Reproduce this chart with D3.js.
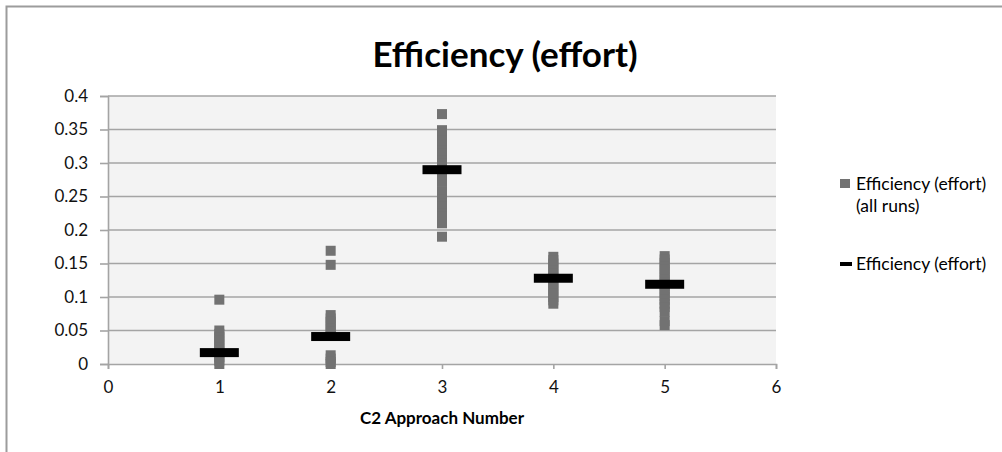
<!DOCTYPE html>
<html>
<head>
<meta charset="utf-8">
<script src="https://cdn.jsdelivr.net/npm/d3@7"></script>
<style>
  html, body { margin: 0; padding: 0; background: #fff; }
  svg { display: block; font-family: Lato, "Open Sans", sans-serif; }
</style>
</head>
<body>
<svg id="chart" width="1002" height="452"></svg>
<script>
// Approach numbers on the x axis
const approaches = [1, 2, 3, 4, 5];

// Efficiency (effort) of every run, per approach
const runs1 = [0.096, 0.050, 0.045, 0.040, 0.035, 0.030, 0.025, 0.020, 0.015, 0.010, 0.005, 0.000];
const runs2 = [0.169, 0.148, 0.073, 0.068, 0.063, 0.058, 0.053, 0.048, 0.043, 0.013, 0.008, 0.003, 0.000];
const runs3 = [0.373, 0.349, 0.344, 0.339, 0.334, 0.329, 0.324, 0.319, 0.314, 0.309, 0.304, 0.299,
               0.294, 0.289, 0.284, 0.279, 0.272, 0.258, 0.252, 0.246, 0.240, 0.235, 0.230, 0.225,
               0.220, 0.215, 0.210, 0.190];
const runs4 = [0.160, 0.155, 0.150, 0.145, 0.140, 0.135, 0.130, 0.125, 0.120, 0.115, 0.110, 0.105,
               0.100, 0.095, 0.090];
const runs5 = [0.161, 0.156, 0.151, 0.146, 0.141, 0.136, 0.131, 0.126, 0.121, 0.116, 0.111, 0.106,
               0.101, 0.096, 0.090, 0.085, 0.078, 0.064, 0.058];

// Mean efficiency per approach
const meanEfficiency = [0.017, 0.041, 0.290, 0.128, 0.119];

// Axis ticks
const xTicks = [0, 1, 2, 3, 4, 5, 6];
const yTicks = [0, 0.05, 0.1, 0.15, 0.2, 0.25, 0.3, 0.35, 0.4];

const title = "Efficiency (effort)";
const xTitle = "C2 Approach Number";
const legendRuns = ["Efficiency (effort)", "(all runs)"];
const legendMean = "Efficiency (effort)";

const allRuns = [runs1, runs2, runs3, runs4, runs5];
const points = [];
approaches.forEach((a, i) => allRuns[i].forEach(v => points.push({ x: a, y: v })));
const means = approaches.map((a, i) => ({ x: a, y: meanEfficiency[i] }));

const svg = d3.select("#chart");
const plot = { left: 108, right: 776, top: 96, bottom: 364 };

const x = d3.scaleLinear().domain([0, 6]).range([plot.left, plot.right]);
const y = d3.scaleLinear().domain([0, 0.4]).range([plot.bottom, plot.top]);

const defs = svg.append("defs");
defs.append("filter").attr("id", "soft")
  .attr("x", "-50%").attr("y", "-50%").attr("width", "200%").attr("height", "200%")
  .append("feGaussianBlur").attr("stdDeviation", 0.7);

// chart frame
svg.append("rect")
  .attr("x", 6.5).attr("y", 6.5).attr("width", 1100).attr("height", 600)
  .attr("fill", "#fff").attr("stroke", "#9c9c9c").attr("stroke-width", 2);

// plot background
svg.append("rect")
  .attr("x", plot.left).attr("y", plot.top)
  .attr("width", plot.right - plot.left).attr("height", plot.bottom - plot.top)
  .attr("fill", "#f3f3f3");

// horizontal gridlines
svg.append("g").selectAll("line").data(yTicks.filter(d => d > 0)).join("line")
  .attr("x1", plot.left).attr("x2", plot.right)
  .attr("y1", d => y(d)).attr("y2", d => y(d))
  .attr("stroke", "#a4a4a4").attr("stroke-width", 1.6);

// y axis
const yAxis = svg.append("g").attr("transform", `translate(${plot.left},0)`)
  .call(d3.axisLeft(y).tickValues(yTicks).tickSize(8).tickPadding(12)
    .tickFormat(d => d3.format("")(+d.toFixed(2))));
yAxis.select(".domain").attr("stroke", "#a4a4a4").attr("stroke-width", 1.6);
yAxis.selectAll(".tick line").attr("stroke", "#a4a4a4").attr("stroke-width", 1.6);
yAxis.selectAll("text").attr("font-size", 17).attr("fill", "#111")
  .attr("font-family", "Lato, sans-serif");

// x axis
const xAxis = svg.append("g").attr("transform", `translate(0,${plot.bottom})`)
  .call(d3.axisBottom(x).tickValues(xTicks).tickSize(5).tickPadding(12).tickFormat(d3.format("d")));
xAxis.select(".domain").attr("stroke", "#a4a4a4").attr("stroke-width", 1.6);
xAxis.selectAll(".tick line").attr("stroke", "#a4a4a4").attr("stroke-width", 1.6);
xAxis.selectAll("text").attr("font-size", 17).attr("fill", "#111")
  .attr("font-family", "Lato, sans-serif");

// all runs
const size = 10;
svg.append("g").attr("filter", "url(#soft)")
  .selectAll("rect").data(points).join("rect")
  .attr("x", d => x(d.x) - size / 2).attr("y", d => y(d.y) - size / 2)
  .attr("width", size).attr("height", size)
  .attr("fill", "#727272");

// means
svg.append("g").selectAll("rect").data(means).join("rect")
  .attr("x", d => x(d.x) - 19.5).attr("y", d => y(d.y) - 4.5)
  .attr("width", 39).attr("height", 9)
  .attr("fill", "#000");

// title
svg.append("text")
  .attr("x", 505).attr("y", 67).attr("text-anchor", "middle")
  .attr("font-size", 35).attr("font-weight", "bold").attr("fill", "#000")
  .text(title);

// x axis title
svg.append("text")
  .attr("x", x(3)).attr("y", 424).attr("text-anchor", "middle")
  .attr("font-size", 17).attr("font-weight", "bold").attr("fill", "#000")
  .text(xTitle);

// legend
const lg = svg.append("g");
lg.append("rect").attr("x", 840).attr("y", 179).attr("width", 10).attr("height", 9)
  .attr("fill", "#727272");
lg.append("text").attr("x", 856).attr("y", 190).attr("font-size", 17.5).attr("fill", "#000")
  .selectAll("tspan").data(legendRuns).join("tspan")
  .attr("x", 856).attr("dy", (d, i) => i === 0 ? 0 : 22).text(d => d);
lg.append("rect").attr("x", 840).attr("y", 262).attr("width", 12).attr("height", 4)
  .attr("fill", "#000");
lg.append("text").attr("x", 856).attr("y", 270).attr("font-size", 17.5).attr("fill", "#000")
  .text(legendMean);
</script>
</body>
</html>
